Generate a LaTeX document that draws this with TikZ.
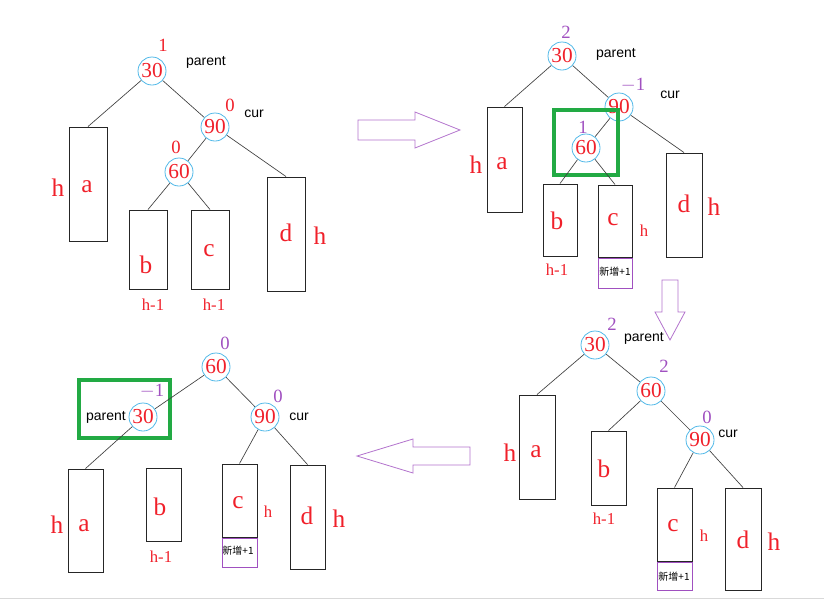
\documentclass[tikz,border=0pt]{standalone}
\usepackage{fontspec}
\setmainfont{Liberation Serif}
\newfontfamily\sansf{Liberation Sans}
\newfontfamily\cjk{Noto Sans CJK SC}
\usetikzlibrary{fit}
\definecolor{rd}{HTML}{F0202A}
\definecolor{pu}{HTML}{A050C0}
\definecolor{cb}{HTML}{50B8E8}
\definecolor{gr}{HTML}{22AA44}
\tikzset{
 nd/.style={circle,draw=cb,line width=0.6pt,minimum size=21pt,inner sep=0pt,text=rd,font=\fontsize{16}{16}\selectfont},
 box/.style={draw=black!85,line width=0.7pt,inner sep=0pt},
 nbox/.style={draw=pu,line width=0.6pt,inner sep=0pt},
 lt/.style={text=rd,font=\fontsize{19}{19}\selectfont},
 hh/.style={text=rd,font=\fontsize{19}{19}\selectfont},
 hs/.style={text=rd,font=\fontsize{12.5}{12.5}\selectfont},
 bf/.style={font=\fontsize{14}{14}\selectfont},
 rb/.style={bf,text=rd},
 pb/.style={bf,text=pu},
 lab/.style={font=\sansf\fontsize{10.5}{10.5}\selectfont},
 cj/.style={font=\cjk\fontsize{7.5}{7.5}\selectfont},
 ed/.style={draw=black!75,line width=0.5pt},
 grn/.style={draw=gr,line width=3pt},
 harr/.style={draw=pu!80,line width=0.6pt,fill=white}
}
\newcommand\bxx[6][box]{\path (#3,#4) coordinate (#2-nw) (#5,#6) coordinate (#2-se);
 \node[#1,fit=(#2-nw)(#2-se)] (#2) {};}
\begin{document}
\begin{tikzpicture}[x=0.75pt,y=-0.75pt]
\useasboundingbox (0,0) rectangle (824,604);
\draw[black!15] (0,598) -- (824,598);
% ---------- panel 1
\node[nd] (p1a) at (152,71) {30};
\node[nd] (p1b) at (215,127) {90};
\node[nd] (p1c) at (179,172) {60};
\node[rb] (p1an) at (163,45) {1};
\node[lab] (p1ap) at (206,62) {parent};
\node[rb] (p1bn) at (230,105) {0};
\node[lab] (p1bc) at (254,114) {cur};
\node[rb] (p1cn) at (176,147) {0};
\bxx{p1A}{69}{127}{107}{241}
\bxx{p1B}{129}{210}{167}{289}
\bxx{p1C}{191}{210}{229}{289}
\bxx{p1D}{267}{177}{305}{291}
\node[lt] (p1At) at (87,187) {a};
\node[hh] (p1Ah) at (58,188) {h};
\node[lt] (p1Bt) at (146,265) {b};
\node[hs] (p1Bh) at (153,305) {h-1};
\node[lt] (p1Ct) at (209,251) {c};
\node[hs] (p1Ch) at (214,305) {h-1};
\node[lt] (p1Dt) at (286,233) {d};
\node[hh] (p1Dh) at (320,236) {h};
\draw[ed] (p1a) -- (p1A.north) (p1a) -- (p1b) (p1b) -- (p1c) (p1b) -- (p1D.north)
 (p1c) -- (p1B.north) (p1c) -- (p1C.north);
% arrow right
\draw[harr] (358,120) -- (415,120) -- (415,112) -- (460,130) -- (415,148) -- (415,140) -- (358,140) -- cycle;
% ---------- panel 2
\node[nd] (p2a) at (562,56) {30};
\node[nd] (p2b) at (619,107) {90};
\node[nd] (p2c) at (586,148) {60};
\node[pb] (p2an) at (566,32) {2};
\node[lab] (p2ap) at (616,54) {parent};
\node[pb] (p2bn) at (633,85) {$-$1};
\node[lab] (p2bc) at (670,95) {cur};
\node[pb] (p2cn) at (583,127) {1};
\draw[grn] (554,110) rectangle (618,175);
\bxx{p2A}{487}{107}{522}{212}
\bxx{p2B}{543}{184}{577}{256}
\bxx{p2C}{598}{185}{632}{257}
\bxx[nbox]{p2N}{598}{258}{632}{288}
\bxx{p2D}{666}{153}{702}{257}
\node[lt] (p2At) at (502,164) {a};
\node[hh] (p2Ah) at (476,165) {h};
\node[lt] (p2Bt) at (557,221) {b};
\node[hs] (p2Bh) at (557,270) {h-1};
\node[lt] (p2Ct) at (613,220) {c};
\node[hs] (p2Ch) at (644,231) {h};
\node[cj] (p2Nt) at (615,272) {新增+1};
\node[lt] (p2Dt) at (684,204) {d};
\node[hh] (p2Dh) at (714,207) {h};
\draw[ed] (p2a) -- (p2A.north) (p2a) -- (p2b) (p2b) -- (p2c) (p2b) -- (p2D.north)
 (p2c) -- (p2B.north) (p2c) -- (p2C.north);
% arrow down
\draw[harr] (662,280) -- (678,280) -- (678,312) -- (685,312) -- (670,340) -- (655,312) -- (662,312) -- cycle;
% ---------- panel 3
\node[nd] (p3a) at (595,345) {30};
\node[nd] (p3b) at (651,391) {60};
\node[nd] (p3c) at (700,440) {90};
\node[pb] (p3an) at (612,324) {2};
\node[lab] (p3ap) at (644,338) {parent};
\node[pb] (p3bn) at (664,366) {2};
\node[pb] (p3cn) at (707,417) {0};
\node[lab] (p3cc) at (728,434) {cur};
\bxx{p3A}{519}{395}{555}{499}
\bxx{p3B}{591}{431}{626}{505}
\bxx{p3C}{657}{488}{692}{561}
\bxx[nbox]{p3N}{657}{562}{692}{590}
\bxx{p3D}{725}{488}{761}{590}
\node[lt] (p3At) at (536,452) {a};
\node[hh] (p3Ah) at (510,453) {h};
\node[lt] (p3Bt) at (604,469) {b};
\node[hs] (p3Bh) at (604,519) {h-1};
\node[lt] (p3Ct) at (673,526) {c};
\node[hs] (p3Ch) at (704,536) {h};
\node[cj] (p3Nt) at (674,577) {新增+1};
\node[lt] (p3Dt) at (743,540) {d};
\node[hh] (p3Dh) at (774,542) {h};
\draw[ed] (p3a) -- (p3A.north) (p3a) -- (p3b) (p3b) -- (p3B.north) (p3b) -- (p3c)
 (p3c) -- (p3C.north) (p3c) -- (p3D.north);
% arrow left
\draw[harr] (470,447) -- (413,447) -- (413,439) -- (357,456) -- (413,473) -- (413,465) -- (470,465) -- cycle;
% ---------- panel 4
\node[nd] (p4a) at (216,367) {60};
\node[nd] (p4b) at (143,417) {30};
\node[nd] (p4c) at (265,417) {90};
\node[pb] (p4an) at (225,343) {0};
\node[pb] (p4bn) at (152,391) {$-$1};
\node[lab] (p4bp) at (106,417) {parent};
\node[pb] (p4cn) at (278,396) {0};
\node[lab] (p4cc) at (299,417) {cur};
\draw[grn] (79,380) rectangle (170,438);
\bxx{p4A}{68}{469}{103}{572}
\bxx{p4B}{146}{468}{181}{541}
\bxx{p4C}{222}{464}{257}{537}
\bxx[nbox]{p4N}{222}{538}{257}{567}
\bxx{p4D}{290}{465}{325}{569}
\node[lt] (p4At) at (84,526) {a};
\node[hh] (p4Ah) at (57,525) {h};
\node[lt] (p4Bt) at (160,507) {b};
\node[hs] (p4Bh) at (161,557) {h-1};
\node[lt] (p4Ct) at (238,503) {c};
\node[hs] (p4Ch) at (268,512) {h};
\node[cj] (p4Nt) at (238,551) {新增+1};
\node[lt] (p4Dt) at (307,516) {d};
\node[hh] (p4Dh) at (339,519) {h};
\draw[ed] (p4a) -- (p4b) (p4a) -- (p4c) (p4b) -- (p4A.north)
 (p4c) -- (p4C.north) (p4c) -- (p4D.north);
\end{tikzpicture}
\end{document}
